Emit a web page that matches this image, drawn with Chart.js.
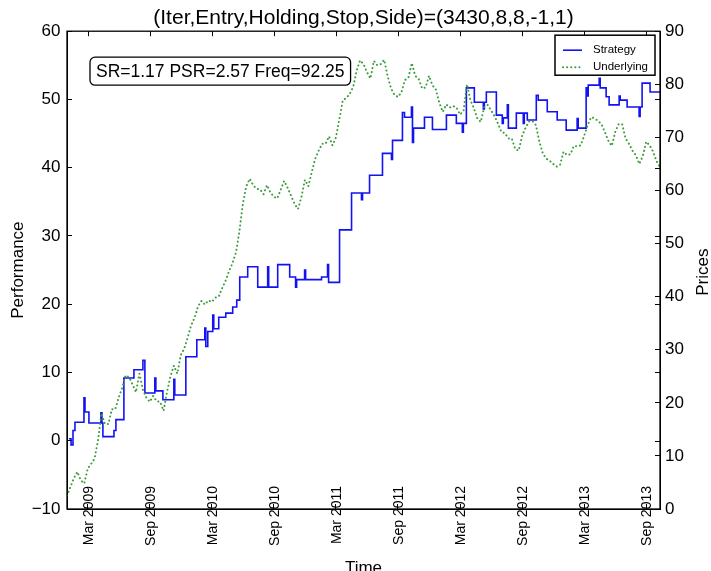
<!DOCTYPE html>
<html>
<head>
<meta charset="utf-8">
<script src="https://cdn.jsdelivr.net/npm/chart.js@4.4.1/dist/chart.umd.min.js"></script>
<style>
  html, body { margin: 0; padding: 0; background: #fff; }
  canvas { display: block; }
</style>
</head>
<body>
<canvas id="perfChart" width="711" height="571"></canvas>
<script>
// ====== DATA ======
// x positions are months since Jan 2009
const xTickMonths = [2, 8, 14, 20, 26, 32, 38, 44, 50, 56];
const xTickLabels = ['Mar 2009', 'Sep 2009', 'Mar 2010', 'Sep 2010', 'Mar 2011',
                     'Sep 2011', 'Mar 2012', 'Sep 2012', 'Mar 2013', 'Sep 2013'];
const xMaxMonth = 57.33;

const perfTicks = [-10, 0, 10, 20, 30, 40, 50, 60];
const priceTicks = [0, 10, 20, 30, 40, 50, 60, 70, 80, 90];

// strategy performance, stepped: value holds from each month mark onwards
const strategyMonths = [
  0.19, 0.39, 0.58, 0.77, 1.64, 1.74, 2.12, 3.28, 3.38, 3.47,
  4.54, 4.73, 5.5, 6.47, 7.34, 7.53, 8.49, 8.59, 9.27, 10.33,
  10.42, 11.49, 12.55, 13.32, 13.42, 13.61, 14.09, 14.19, 14.67, 15.35,
  16.02, 16.41, 16.7, 17.47, 18.44, 19.4, 19.5, 20.37, 21.53, 22.1,
  22.2, 22.97, 23.07, 24.61, 25.19, 25.29, 26.35, 27.51, 28.47, 28.57,
  29.25, 30.5, 31.37, 31.47, 32.43, 32.63, 33.3, 33.4, 33.5, 34.56,
  35.33, 36.68, 37.64, 38.22, 38.32, 38.61, 39.38, 40.25, 40.35, 40.54,
  41.51, 42.08, 42.18, 42.57, 42.67, 43.44, 44.11, 44.21, 44.5, 45.37,
  45.56, 46.43, 47.39, 48.26, 49.32, 49.42, 50.19, 50.29, 50.39, 51.45,
  51.55, 52.12, 52.41, 53.38, 53.48, 54.15, 55.31, 55.41, 55.6, 56.37,
  57.33
];
const strategyValues = [
  0.3, -0.6, 1.5, 2.7, 6.3, 4.2, 2.6, 4.1, 2.6, 0.6,
  1.5, 3.1, 9.2, 10.4, 11.8, 7, 9.2, 7.3, 6, 9,
  6.7, 12.3, 14.8, 16.5, 13.8, 16, 18.4, 16.4, 18.1, 18.7,
  19.6, 20.6, 24, 25.5, 22.5, 25.5, 22.5, 25.8, 24, 22.5,
  23.6, 25, 23.6, 24, 25.8, 23.2, 30.9, 36.3, 35.3, 36.3,
  38.9, 42.1, 41.2, 44, 48.1, 47.4, 48.9, 43.7, 45.8, 47.4,
  45.6, 47.7, 46.5, 45.2, 46.5, 51.7, 49.6, 48.6, 49.6, 51.1,
  47.7, 46.5, 47.3, 49.2, 45.8, 48, 46.5, 48, 47, 50.6,
  49.9, 48.2, 47, 45.5, 47.2, 45.8, 51.7, 50.5, 52.1, 53.1,
  51.7, 50.4, 49.2, 50.5, 49.9, 48.9, 47.5, 48.9, 52.4, 51.1,
  51.1
];

// underlying prices, sampled every third of a month from Jan 2009
const underlyingStep = 1 / 3;
const underlyingPrices = [
  2.5, 4.2, 5.8, 7, 5.4, 4.8, 7.6, 8.5, 9.5, 13,
  18, 16, 16, 18.8, 18.8, 21, 22.8, 25.2, 24.8, 23.5,
  22, 25.5, 22.5, 21, 20.2, 21.3, 20.3, 20.2, 18.5, 22,
  25, 27, 25.5, 29, 30.2, 32.3, 34.6, 36, 38.2, 39.2,
  38.5, 39.3, 39, 39.8, 40, 41.6, 43, 44.8, 46.3, 48.3,
  52.3, 57.5, 60.8, 62.2, 61, 60.3, 60.2, 59.3, 61, 59.6,
  58.8, 58.5, 60.2, 61.8, 60.5, 59, 57.5, 56.5, 58.8, 62,
  60.8, 63.5, 66, 67.5, 68.8, 68.8, 70.2, 68.5, 70, 73.5,
  77, 77.4, 78.2, 79.5, 82.6, 84.5, 83.8, 82.3, 81.1, 84.4,
  83.6, 83.8, 84.6, 81.5, 79.2, 78, 77.6, 78.5, 80.8, 81.2,
  84, 81.6, 81, 79.2, 79.4, 81.6, 79.8, 79, 76.5, 74.8,
  76.2, 75.6, 75.9, 75.6, 74.3, 75, 80, 77, 75.5, 73.6,
  72.9, 75.7, 76.1, 75.1, 74, 72.6, 71, 70.8, 69.8, 69.8,
  67.8, 67.5, 70.3, 71.8, 73, 73.1, 72.3, 69.2, 67, 66,
  65.6, 65, 64.5, 64.8, 67.3, 66.7, 66.8, 68.4, 68.3, 68.5,
  70.3, 72.3, 73.8, 73.6, 73.1, 72.5, 71, 69.4, 68.4, 71,
  72.5, 72.5, 69.8, 68.8, 67.5, 66.6, 65, 66.5, 69.2, 68.5,
  67.3, 65.5, 64.4
];

const statsText = 'SR=1.17 PSR=2.57 Freq=92.25';

// ====== STYLE ======
const FONT = '"Liberation Sans", Arial, Helvetica, sans-serif';
const BLUE = '#1212f2';
const GREEN = '#3d9d3d';

Chart.defaults.font.family = FONT;
Chart.defaults.color = '#000';

// frame, mirrored ticks, x labels over the axis, stats box, legend, right title
const frameExtras = {
  id: 'frameExtras',
  afterDraw(chart) {
    const { ctx, chartArea: a, scales } = chart;
    ctx.save();
    ctx.strokeStyle = '#000';
    ctx.lineWidth = 1;
    ctx.beginPath();
    scales.x.ticks.forEach(t => {
      const px = Math.round(scales.x.getPixelForValue(t.value)) + 0.5;
      ctx.moveTo(px, a.top);
      ctx.lineTo(px, a.top + 5);
    });
    scales.y.ticks.forEach(t => {
      const py = Math.round(scales.y.getPixelForValue(t.value)) + 0.5;
      ctx.moveTo(a.right, py);
      ctx.lineTo(a.right - 5, py);
    });
    ctx.stroke();

    ctx.lineWidth = 1.3;
    ctx.strokeRect(a.left, a.top, a.right - a.left, a.bottom - a.top);

    // x tick labels, rotated and straddling the bottom axis
    ctx.fillStyle = '#000';
    ctx.font = '14px ' + FONT;
    ctx.textAlign = 'right';
    ctx.textBaseline = 'middle';
    scales.x.ticks.forEach(t => {
      const label = xTickLabels[xTickMonths.indexOf(t.value)];
      ctx.save();
      ctx.translate(scales.x.getPixelForValue(t.value) + 1, a.bottom - 23);
      ctx.rotate(-Math.PI / 2);
      ctx.fillText(label, 0, 0);
      ctx.restore();
    });

    // stats box
    ctx.font = '17.5px ' + FONT;
    ctx.textAlign = 'left';
    const tw = ctx.measureText(statsText).width;
    const bx = a.left + 23, by = a.top + 26, bw = tw + 12, bh = 28;
    ctx.beginPath();
    ctx.roundRect(bx, by, bw, bh, 5);
    ctx.fillStyle = '#fff';
    ctx.fill();
    ctx.lineWidth = 1.3;
    ctx.stroke();
    ctx.fillStyle = '#000';
    ctx.fillText(statsText, bx + 6, by + bh / 2 + 1);

    // legend
    const lx = a.right - 105, ly = a.top + 4;
    ctx.fillStyle = '#fff';
    ctx.fillRect(lx, ly, 100, 40);
    ctx.lineWidth = 1.5;
    ctx.strokeRect(lx, ly, 100, 40);
    ctx.lineWidth = 1.6;
    ctx.strokeStyle = BLUE;
    ctx.beginPath();
    ctx.moveTo(lx + 8, ly + 15);
    ctx.lineTo(lx + 27, ly + 15);
    ctx.stroke();
    ctx.strokeStyle = GREEN;
    ctx.lineWidth = 2;
    ctx.lineCap = 'round';
    ctx.setLineDash([0.1, 4]);
    ctx.beginPath();
    ctx.moveTo(lx + 8, ly + 32);
    ctx.lineTo(lx + 27, ly + 32);
    ctx.stroke();
    ctx.setLineDash([]);
    ctx.fillStyle = '#000';
    ctx.font = '11.5px ' + FONT;
    ctx.fillText('Strategy', lx + 38, ly + 15);
    ctx.fillText('Underlying', lx + 38, ly + 32);

    // right axis title, reading bottom to top
    ctx.font = '17px ' + FONT;
    ctx.translate(703, (a.top + a.bottom) / 2 + 2);
    ctx.rotate(-Math.PI / 2);
    ctx.textAlign = 'center';
    ctx.fillText('Prices', 0, 0);
    ctx.restore();
  }
};

function initPerfChart() {
  const ctx = document.getElementById('perfChart');
  if (!ctx || ctx._chartInitialized) return;
  ctx._chartInitialized = true;

  const strategyPoints = strategyMonths.map((m, i) => ({ x: m, y: strategyValues[i] }));
  const underlyingPoints = underlyingPrices.map((p, i) => ({ x: i * underlyingStep, y: p }));

  const tickGrid = { drawOnChartArea: false, drawTicks: true, tickLength: -5, color: '#000', lineWidth: 1 };

  new Chart(ctx, {
    type: 'line',
    data: {
      datasets: [
        {
          label: 'Strategy',
          data: strategyPoints,
          yAxisID: 'y',
          borderColor: BLUE,
          borderWidth: 1.6,
          stepped: true,
          pointRadius: 0,
          order: 1
        },
        {
          label: 'Underlying',
          data: underlyingPoints,
          yAxisID: 'y1',
          borderColor: GREEN,
          borderWidth: 2,
          borderDash: [0.1, 4],
          borderCapStyle: 'round',
          pointRadius: 0,
          order: 0
        }
      ]
    },
    options: {
      responsive: false,
      animation: false,
      events: [],
      layout: { padding: 0 },
      plugins: {
        legend: { display: false },
        tooltip: { enabled: false },
        title: {
          display: true,
          fullSize: false,
          text: '(Iter,Entry,Holding,Stop,Side)=(3430,8,8,-1,1)',
          color: '#000',
          font: { size: 21, weight: 'normal' },
          padding: { top: 6, bottom: 0 }
        }
      },
      scales: {
        x: {
          type: 'linear',
          min: 0,
          max: xMaxMonth,
          afterBuildTicks: s => { s.ticks = xTickMonths.map(v => ({ value: v })); },
          afterFit: s => { s.height = 62; },
          border: { color: '#000', width: 1 },
          grid: tickGrid,
          ticks: { display: false },
          title: { display: true, text: 'Time', font: { size: 17 }, padding: { top: 0, bottom: -8 } }
        },
        y: {
          position: 'left',
          min: -10,
          max: 60,
          afterBuildTicks: s => { s.ticks = perfTicks.map(v => ({ value: v })); },
          afterFit: s => { s.width = 67; },
          border: { color: '#000', width: 1 },
          grid: tickGrid,
          ticks: {
            padding: 11.5,
            font: { size: 17 },
            callback: v => String(v).replace('-', '\u2212')
          },
          title: { display: true, text: 'Performance', font: { size: 17 }, padding: { top: 8, bottom: 0 } }
        },
        y1: {
          position: 'right',
          min: 0,
          max: 90,
          afterBuildTicks: s => { s.ticks = priceTicks.map(v => ({ value: v })); },
          afterFit: s => { s.width = 51; },
          border: { color: '#000', width: 1 },
          grid: tickGrid,
          ticks: { padding: 10, font: { size: 17 } }
        }
      }
    },
    plugins: [frameExtras]
  });
}

initPerfChart();
</script>
</body>
</html>
